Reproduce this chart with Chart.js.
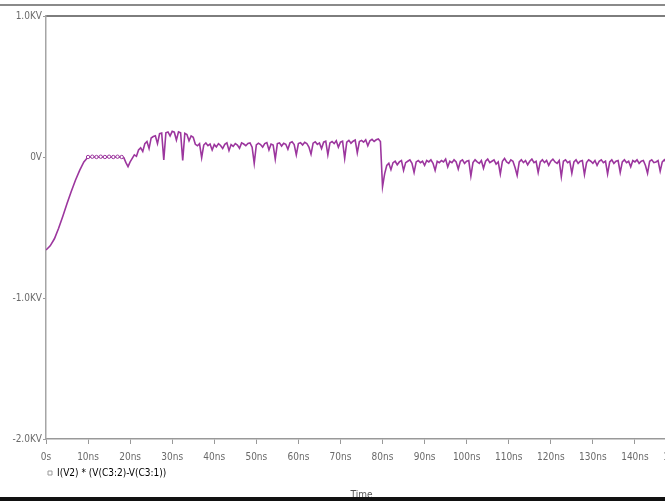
<!DOCTYPE html>
<html>
<head>
<meta charset="utf-8">
<script src="https://cdn.jsdelivr.net/npm/chart.js@4/dist/chart.umd.min.js"></script>
<style>
  html, body { margin: 0; padding: 0; background: #fff; overflow: hidden; width: 665px; height: 501px; }
  #wrap { position: absolute; left: 0; top: 0; width: 677px; height: 501px; }
  .rule-top { position: absolute; left: 0; top: 4px; width: 665px; height: 2px; background: #8a8a8a; z-index: 2; }
  .rule-bottom { position: absolute; left: 0; top: 497px; width: 665px; height: 4px; background: #111; z-index: 2; }
</style>
</head>
<body>
<div class="rule-top"></div>
<div id="wrap"><canvas id="probe" width="677" height="501"></canvas></div>
<div class="rule-bottom"></div>
<script>
// Transient trace: I(V2) * (V(C3:2) - V(C3:1)), time in ns, value in volts
const traceName = 'I(V2) * (V(C3:2)-V(C3:1))';

const timeNs = [
  0, 1, 2, 3, 4, 5, 6, 7, 8, 9,
  10, 11, 12, 13, 14, 15, 16, 17, 18, 18.5,
  19, 19.5, 20, 20.5, 21, 21.5, 22, 22.5, 23, 23.5,
  24, 24.5, 25, 25.5, 26, 26.5, 27, 27.5, 28, 28.5,
  29, 29.5, 30, 30.5, 31, 31.5, 32, 32.5, 33, 33.5,
  34, 34.5, 35, 35.5, 36, 36.5, 37, 37.5, 38, 38.5,
  39, 39.5, 40, 40.5, 41, 41.5, 42, 42.5, 43, 43.5,
  44, 44.5, 45, 45.5, 46, 46.5, 47, 47.5, 48, 48.5,
  49, 49.5, 50, 50.5, 51, 51.5, 52, 52.5, 53, 53.5,
  54, 54.5, 55, 55.5, 56, 56.5, 57, 57.5, 58, 58.5,
  59, 59.5, 60, 60.5, 61, 61.5, 62, 62.5, 63, 63.5,
  64, 64.5, 65, 65.5, 66, 66.5, 67, 67.5, 68, 68.5,
  69, 69.5, 70, 70.5, 71, 71.5, 72, 72.5, 73, 73.5,
  74, 74.5, 75, 75.5, 76, 76.5, 77, 77.5, 78, 78.5,
  79, 79.5, 80, 80.5, 81, 81.5, 82, 82.5, 83, 83.5,
  84, 84.5, 85, 85.5, 86, 86.5, 87, 87.5, 88, 88.5,
  89, 89.5, 90, 90.5, 91, 91.5, 92, 92.5, 93, 93.5,
  94, 94.5, 95, 95.5, 96, 96.5, 97, 97.5, 98, 98.5,
  99, 99.5, 100, 100.5, 101, 101.5, 102, 102.5, 103, 103.5,
  104, 104.5, 105, 105.5, 106, 106.5, 107, 107.5, 108, 108.5,
  109, 109.5, 110, 110.5, 111, 111.5, 112, 112.5, 113, 113.5,
  114, 114.5, 115, 115.5, 116, 116.5, 117, 117.5, 118, 118.5,
  119, 119.5, 120, 120.5, 121, 121.5, 122, 122.5, 123, 123.5,
  124, 124.5, 125, 125.5, 126, 126.5, 127, 127.5, 128, 128.5,
  129, 129.5, 130, 130.5, 131, 131.5, 132, 132.5, 133, 133.5,
  134, 134.5, 135, 135.5, 136, 136.5, 137, 137.5, 138, 138.5,
  139, 139.5, 140, 140.5, 141, 141.5, 142, 142.5, 143, 143.5,
  144, 144.5, 145, 145.5, 146, 146.5, 147, 147.5, 148, 148.5,
  149, 149.5, 150
];

const valueV = [
  -660, -630, -580, -505, -420, -330, -245, -165, -95, -35,
  0, 2, 0, 2, 0, 2, 0, 2, 0, -5,
  -40, -68, -35, -10, 15, 5, 50, 65, 40, 95,
  110, 60, 135, 145, 150, 95, 165, 170, -20, 172,
  178, 150, 182, 176, 120, 178, 172, -25, 168, 160,
  115, 150, 140, 90, 80, 95, -5, 85, 100, 80,
  92, 50, 88, 72, 95, 82, 60, 90, 100, 45,
  88, 75, 95, 85, 62, 100, 92, 80, 96, 100,
  70, -45, 85, 98, 88, 70, 95, 102, 50, 92,
  85, -15, 95, 100, 78, 98, 90, 55, 100, 108,
  88, 15, 95, 102, 85, 105, 96, 70, 20, 98,
  108, 90, 100, 60, 105, 112, 15, 100, 110, 95,
  115, 70, 105, 112, -10, 105, 118, 98, 112, 120,
  30, 110, 118, 105, 122, 80, 115, 125, 110, 122,
  128, 110, -210, -120, -60, -45, -90, -40, -30, -55,
  -35, -25, -95, -40, -30, -20, -45, -110, -35, -25,
  -40, -30, -60, -25, -35, -20, -45, -95, -30, -40,
  -25, -35, -15, -70, -30, -40, -20, -35, -85, -30,
  -20, -45, -30, -25, -135, -40, -20, -35, -45, -25,
  -80, -30, -15, -40, -30, -20, -50, -35, -120, -30,
  -10, -35, -45, -20, -30, -75, -130, -35, -20, -40,
  -25, -55, -30, -15, -40, -30, -110, -35, -20, -40,
  -25, -60, -30, -15, -35, -45, -25, -140, -30, -20,
  -40, -30, -115, -35, -20, -45, -30, -25, -125, -40,
  -20, -30, -45, -25, -60, -30, -20, -40, -30, -120,
  -35, -20, -45, -30, -25, -110, -35, -20, -40, -30,
  -70, -25, -35, -20, -45, -30, -25, -60, -115, -30,
  -20, -40, -35, -25, -100, -35, -20, -40, -30, -25,
  -45, -30, -35
];

// Axis tick labels
const xTickValues = [0, 10, 20, 30, 40, 50, 60, 70, 80, 90, 100, 110, 120, 130, 140, 150];
const xTickLabels = ['0s', '10ns', '20ns', '30ns', '40ns', '50ns', '60ns', '70ns', '80ns', '90ns', '100ns', '110ns', '120ns', '130ns', '140ns', '150ns'];
const yTickValues = [-2000, -1000, 0, 1000];
const yTickLabels = ['-2.0KV', '-1.0KV', '0V', '1.0KV'];

const traceColor = '#9c369e';
const textColor = '#6a6a6a';
// narrow face for the probe-window lettering
const axisFont = { family: '"DejaVu Sans Condensed", "DejaVu Sans", sans-serif', weight: 'condensed', size: 10 };

const points = timeNs.map((t, i) => ({ x: t, y: valueV[i] }));

new Chart(document.getElementById('probe'), {
  type: 'line',
  data: {
    datasets: [{
      label: traceName,
      data: points,
      borderColor: traceColor,
      borderWidth: 1.6,
      tension: 0,
      pointRadius: ctx => {
        const p = ctx.raw;
        return p && p.x >= 10 && p.x <= 18 ? 1.7 : 0;
      },
      pointStyle: 'circle',
      pointBackgroundColor: '#ffffff',
      pointBorderColor: traceColor,
      pointBorderWidth: 1,
      xAxisID: 'x',
      yAxisID: 'y'
    }]
  },
  options: {
    responsive: false,
    animation: false,
    devicePixelRatio: 1,
    layout: { padding: { top: 16, left: 0, right: 0, bottom: 0 } },
    scales: {
      x: {
        type: 'linear',
        position: 'bottom',
        min: 0,
        max: 150,
        afterBuildTicks: s => { s.ticks = xTickValues.map(v => ({ value: v })); },
        afterFit: s => { s.height = 27; s.paddingLeft = 0; s.paddingRight = 0; },
        ticks: {
          autoSkip: false,
          maxRotation: 0,
          padding: 7,
          color: textColor,
          font: axisFont,
          callback: v => xTickLabels[xTickValues.indexOf(v)] ?? ''
        },
        grid: { display: true, drawOnChartArea: false, drawTicks: true, tickLength: 5, color: '#999', lineWidth: 1 },
        border: { display: true, color: '#999', width: 1.5 }
      },
      xTop: {
        type: 'linear',
        position: 'top',
        min: 0,
        max: 150,
        afterFit: s => { s.height = 0; s.paddingLeft = 0; s.paddingRight = 0; },
        ticks: { display: false },
        grid: { display: false, drawTicks: false },
        border: { display: true, color: '#7d7d7d', width: 2 }
      },
      y: {
        type: 'linear',
        min: -2000,
        max: 1000,
        afterBuildTicks: s => { s.ticks = yTickValues.map(v => ({ value: v })); },
        afterFit: s => { s.width = 46; },
        ticks: {
          padding: 1,
          color: textColor,
          font: axisFont,
          callback: v => yTickLabels[yTickValues.indexOf(v)] ?? ''
        },
        grid: { display: true, drawOnChartArea: false, drawTicks: true, tickLength: 3, color: '#999', lineWidth: 1 },
        border: { display: true, color: '#a5a5a5', width: 1.5 }
      }
    },
    plugins: {
      legend: {
        display: true,
        position: 'bottom',
        align: 'start',
        fullSize: false,
        labels: {
          usePointStyle: true,
          boxWidth: 4,
          boxHeight: 4,
          padding: 2,
          color: '#555',
          font: axisFont,
          generateLabels: () => [{
            text: traceName,
            fillStyle: '#ffffff',
            strokeStyle: '#9a9a9a',
            lineWidth: 1,
            pointStyle: 'rect',
            datasetIndex: 0,
            hidden: false
          }]
        }
      },
      title: {
        display: true,
        text: 'Time',
        position: 'bottom',
        fullSize: false,
        color: '#555',
        font: axisFont,
        padding: { top: 1, bottom: 0 }
      },
      tooltip: { enabled: false }
    }
  }
});
</script>
</body>
</html>
